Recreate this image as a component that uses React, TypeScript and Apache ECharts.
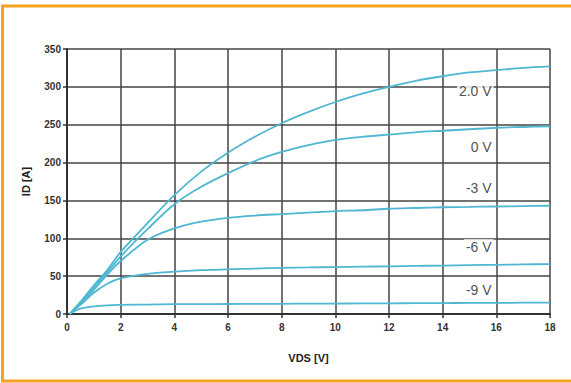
import React, { useEffect, useRef } from "react";
import * as echarts from "echarts";

const vds = [0.1, 0.5, 1, 1.5, 2, 3, 4, 5, 6, 7, 8, 9, 10, 11, 12, 13, 14, 15, 16, 17, 18];
const id20 = [0, 16, 38, 58, 82, 120, 157, 188, 213, 234, 252, 267, 280, 291, 300, 308, 314, 319, 322, 325, 327];
const id0 = [0, 15, 35, 55, 76, 112, 145, 168, 186, 202, 214, 223, 230, 234, 237, 240, 242, 244, 246, 247, 248];
const idm3 = [0, 14, 32, 52, 70, 98, 113, 122, 127, 130, 132, 134, 136, 137, 139, 140, 141, 141.5, 142, 142.5, 143];
const idm6 = [0, 12, 28, 40, 47, 53, 56, 58, 59, 60, 61, 61.5, 62, 62.5, 63, 63.5, 64, 64.5, 65, 65.5, 66];
const idm9 = [0, 7, 10, 11.5, 12, 12.5, 13, 13, 13.2, 13.4, 13.5, 13.7, 13.8, 14, 14.1, 14.3, 14.4, 14.6, 14.7, 14.9, 15];

const seriesNames = ["2.0 V", "0 V", "-3 V", "-6 V", "-9 V"];
const seriesValues = [id20, id0, idm3, idm6, idm9];
const labelX = [15.9, 15.9, 15.9, 15.9, 15.9];
const labelY = [294, 221, 167, 89, 32];

const xTicks = [0, 2, 4, 6, 8, 10, 12, 14, 16, 18];
const yTicks = [0, 50, 100, 150, 200, 250, 300, 350];

export default function App() {
  const ref = useRef<HTMLDivElement>(null);
  useEffect(() => {
    if (!ref.current) return;
    const chart = echarts.init(ref.current, null, { renderer: "svg" });
    const lineSeries = seriesValues.map((vals, i) => ({
      name: seriesNames[i],
      type: "line",
      data: vds.map((x, j) => [x, vals[j]]),
      smooth: 0.3,
      showSymbol: false,
      symbol: "none",
      lineStyle: { color: "#4fb7d1", width: 1.8 },
      z: 3,
    }));
    const labelSeries = {
      type: "scatter",
      symbolSize: 0,
      data: seriesNames.map((n, i) => ({ value: [labelX[i], labelY[i]], name: n })),
      label: {
        show: true,
        position: "inside",
        formatter: (p: any) => p.name,
        align: "right",
        verticalAlign: "middle",
        color: "#222",
        fontFamily: "Arial, Liberation Sans, sans-serif",
        fontSize: 14,
        backgroundColor: "#fff",
        padding: [1, 2, 0, 2],
      },
      z: 5,
    };
    chart.setOption({
      animation: false,
      backgroundColor: "#fff",
      grid: { left: 67, right: 21, top: 49, bottom: 69 },
      graphic: [
        {
          type: "rect",
          shape: { x: 2.5, y: 6, width: 620, height: 375 },
          style: { fill: "none", stroke: "#f7a21e", lineWidth: 3 },
          silent: true,
        },
      ],
      xAxis: {
        type: "value",
        min: 0,
        max: 18,
        interval: 2,
        name: "VDS [V]",
        nameLocation: "middle",
        nameGap: 38,
        nameTextStyle: { color: "#222", fontSize: 11, fontWeight: "bold", fontFamily: "Arial, Liberation Sans, sans-serif" },
        axisLine: { show: true, lineStyle: { color: "#333", width: 2 } },
        axisTick: { show: true, length: 4, lineStyle: { color: "#333", width: 1.5 } },
        axisLabel: {
          color: "#333",
          fontSize: 10,
          fontWeight: "bold",
          fontFamily: "Arial, Liberation Sans, sans-serif",
          margin: 8,
          formatter: (v: number) => (xTicks.includes(v) ? String(v) : ""),
        },
        splitLine: { show: true, lineStyle: { color: "#444", width: 1.5 } },
      },
      yAxis: {
        type: "value",
        min: 0,
        max: 350,
        interval: 50,
        name: "ID [A]",
        nameLocation: "middle",
        nameGap: 36,
        nameRotate: 90,
        nameTextStyle: { color: "#222", fontSize: 11, fontWeight: "bold", fontFamily: "Arial, Liberation Sans, sans-serif" },
        axisLine: { show: true, lineStyle: { color: "#333", width: 2 } },
        axisTick: { show: true, length: 4, lineStyle: { color: "#333", width: 1.5 } },
        axisLabel: {
          color: "#333",
          fontSize: 10,
          fontWeight: "bold",
          fontFamily: "Arial, Liberation Sans, sans-serif",
          margin: 6,
          formatter: (v: number) => (yTicks.includes(v) ? String(v) : ""),
        },
        splitLine: { show: true, lineStyle: { color: "#444", width: 1.5 } },
      },
      series: [...lineSeries, labelSeries],
    });
    return () => chart.dispose();
  }, []);
  return (
    <div
      ref={ref}
      style={{ position: "fixed", left: 0, top: 0, width: 571, height: 383 }}
    />
  );
}
